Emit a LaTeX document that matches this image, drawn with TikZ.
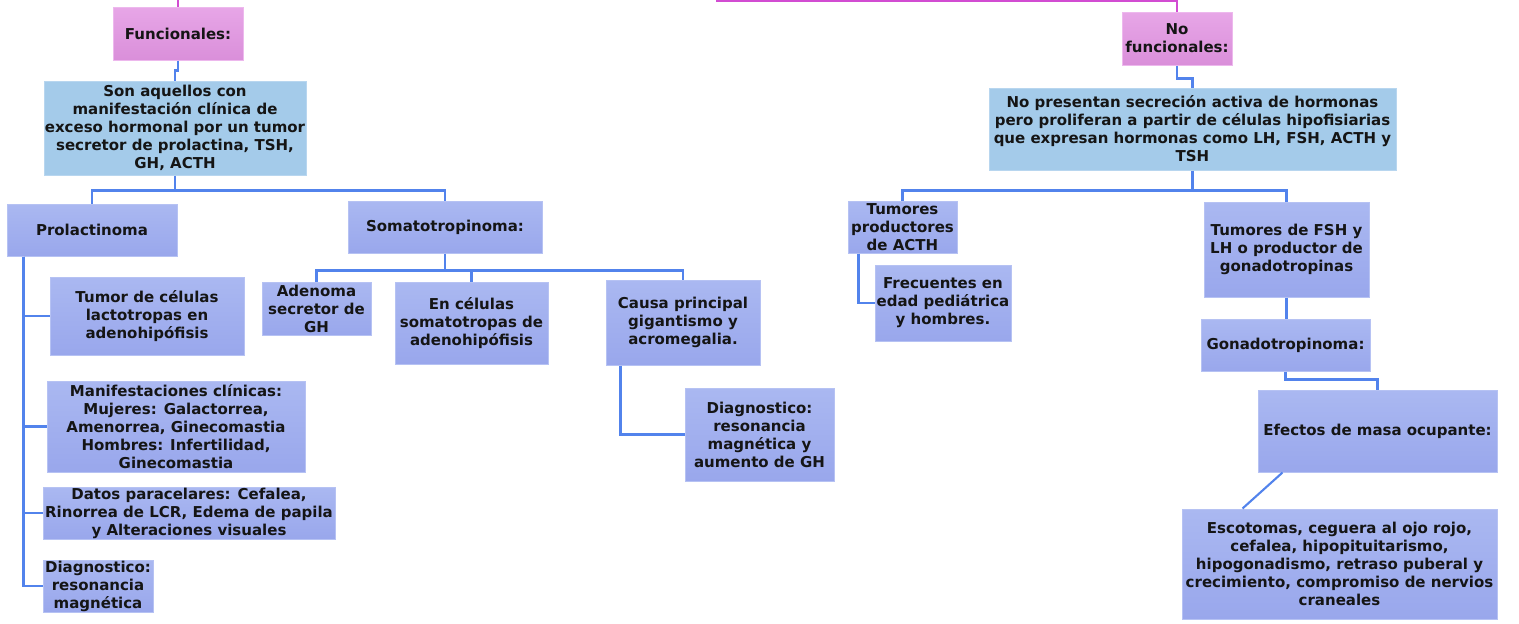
\documentclass[tikz,border=0pt]{standalone}
\usepackage{fontspec}
\setmainfont{DejaVu Sans}
\definecolor{pfillt}{HTML}{AAB8F1}
\definecolor{pfillb}{HTML}{99A7EC}
\definecolor{pline}{HTML}{B6C2F3}
\definecolor{bfill}{HTML}{A4CBEA}
\definecolor{bline}{HTML}{B8D6EF}
\definecolor{mfillt}{HTML}{E7A6E7}
\definecolor{mfillb}{HTML}{DA8FDA}
\definecolor{mline}{HTML}{EDB8ED}
\definecolor{conncol}{HTML}{5283EC}
\definecolor{magcol}{HTML}{D24CD2}
\definecolor{txt}{HTML}{151515}
\tikzset{
  base/.style={rectangle, inner sep=0pt, align=center, text=txt, line width=1pt,
    font=\fontsize{15}{18}\selectfont\bfseries},
  pbox/.style={base, draw=pline, top color=pfillt, bottom color=pfillb},
  bbox/.style={base, draw=bline, fill=bfill},
  mbox/.style={base, draw=mline, top color=mfillt, bottom color=mfillb},
  conn/.style={draw=conncol, line width=2.1pt},
  magline/.style={draw=magcol, line width=2.1pt},
}
\begin{document}
\begin{tikzpicture}[x=1pt,y=-1pt]
\useasboundingbox (0,0) rectangle (1519,624);
% top level
\node[mbox, minimum width=130, minimum height=53] (fun) at (178,33.5) {Funcionales:};
\node[mbox, minimum width=110, minimum height=53] (nofun) at (1177,38.5) {No\\funcionales:};
\node[bbox, minimum width=262, minimum height=94] (son) at (175,128) {Son aquellos con\\manifestación clínica de\\exceso hormonal por un tumor\\secretor de prolactina, TSH,\\GH, ACTH};
\node[bbox, minimum width=407, minimum height=82] (nopres) at (1192.5,129) {No presentan secreción activa de hormonas\\pero proliferan a partir de células hipofisiarias\\que expresan hormonas como LH, FSH, ACTH y\\TSH};
% left branch
\node[pbox, minimum width=170, minimum height=52] (prol) at (92,230) {Prolactinoma};
\node[pbox, minimum width=194, minimum height=52] (soma) at (445,227) {Somatotropinoma:};
\node[pbox, minimum width=194, minimum height=78] (tumor) at (147,316) {Tumor de células\\lactotropas en\\adenohipófisis};
\node[pbox, minimum width=258, minimum height=91] (manif) at (176,426.5) {Manifestaciones clínicas:\\Mujeres: Galactorrea,\\Amenorrea, Ginecomastia\\Hombres: Infertilidad,\\Ginecomastia};
\node[pbox, minimum width=292, minimum height=52] (datos) at (189,513) {Datos paracelares: Cefalea,\\Rinorrea de LCR, Edema de papila\\y Alteraciones visuales};
\node[pbox, minimum width=110, minimum height=52] (diagA) at (98,586) {Diagnostico:\\resonancia\\magnética};
\node[pbox, minimum width=109, minimum height=53] (aden) at (316.5,308.5) {Adenoma\\secretor de\\GH};
\node[pbox, minimum width=153, minimum height=82] (encel) at (471.5,323) {En células\\somatotropas de\\adenohipófisis};
\node[pbox, minimum width=154, minimum height=85] (causa) at (683,322.5) {Causa principal\\gigantismo y\\acromegalia.};
\node[pbox, minimum width=149, minimum height=93] (diagB) at (759.5,434.5) {Diagnostico:\\resonancia\\magnética y\\aumento de GH};
% right branch
\node[pbox, minimum width=109, minimum height=52] (tacth) at (902.5,227) {Tumores\\productores\\de ACTH};
\node[pbox, minimum width=136, minimum height=76] (frec) at (943,303) {Frecuentes en\\edad pediátrica\\y hombres.};
\node[pbox, minimum width=165, minimum height=95] (tfsh) at (1286.5,249.5) {Tumores de FSH y\\LH o productor de\\gonadotropinas};
\node[pbox, minimum width=169, minimum height=52] (gona) at (1285.5,345) {Gonadotropinoma:};
\node[pbox, minimum width=239, minimum height=82] (efec) at (1377.5,431) {Efectos de masa ocupante:};
\node[pbox, minimum width=315, minimum height=110] (esco) at (1339.5,564) {Escotomas, ceguera al ojo rojo,\\cefalea, hipopituitarismo,\\hipogonadismo, retraso puberal y\\crecimiento, compromiso de nervios\\craneales};
% magenta connectors
\coordinate (topA) at (178,-2);
\coordinate (topB) at (717,-2);
\coordinate (cornerB) at (717,1);
\draw[magline] (topA) -- (fun.north);
\draw[magline] (topB) -- (cornerB) -| (nofun.north);
% blue connectors
\draw[conn] (fun.south) -- ++(0,10) -| (son.north);
\draw[conn] (son.south) -- ++(0,15) coordinate (j1);
\draw[conn] (j1) -| (prol.north);
\draw[conn] (j1) -| (soma.north);
\draw[conn] ([xshift=17pt]prol.south west) |- (tumor.west);
\draw[conn] ([xshift=17pt]prol.south west) |- (manif.west);
\draw[conn] ([xshift=17pt]prol.south west) |- (datos.west);
\draw[conn] ([xshift=17pt]prol.south west) |- (diagA.west);
\draw[conn] (soma.south) -- ++(0,17) coordinate (j2);
\draw[conn] (j2) -| (aden.north);
\draw[conn] (j2) -| (encel.north);
\draw[conn] (j2) -| (causa.north);
\draw[conn] ([xshift=15pt]causa.south west) |- (diagB.west);
\draw[conn] (nofun.south) -- ++(0,13) -| (nopres.north);
\draw[conn] (nopres.south) -- ++(0,20) coordinate (j3);
\draw[conn] (j3) -| (tacth.north);
\draw[conn] (j3) -| (tfsh.north);
\draw[conn] ([xshift=11pt]tacth.south west) |- (frec.west);
\draw[conn] (tfsh.south) -- (tfsh.south |- gona.north);
\draw[conn] (gona.south) -- ++(0,8) -| (efec.north);
\draw[conn] ([xshift=25pt]efec.south west) -- ([xshift=61pt]esco.north west);
\end{tikzpicture}
\end{document}
